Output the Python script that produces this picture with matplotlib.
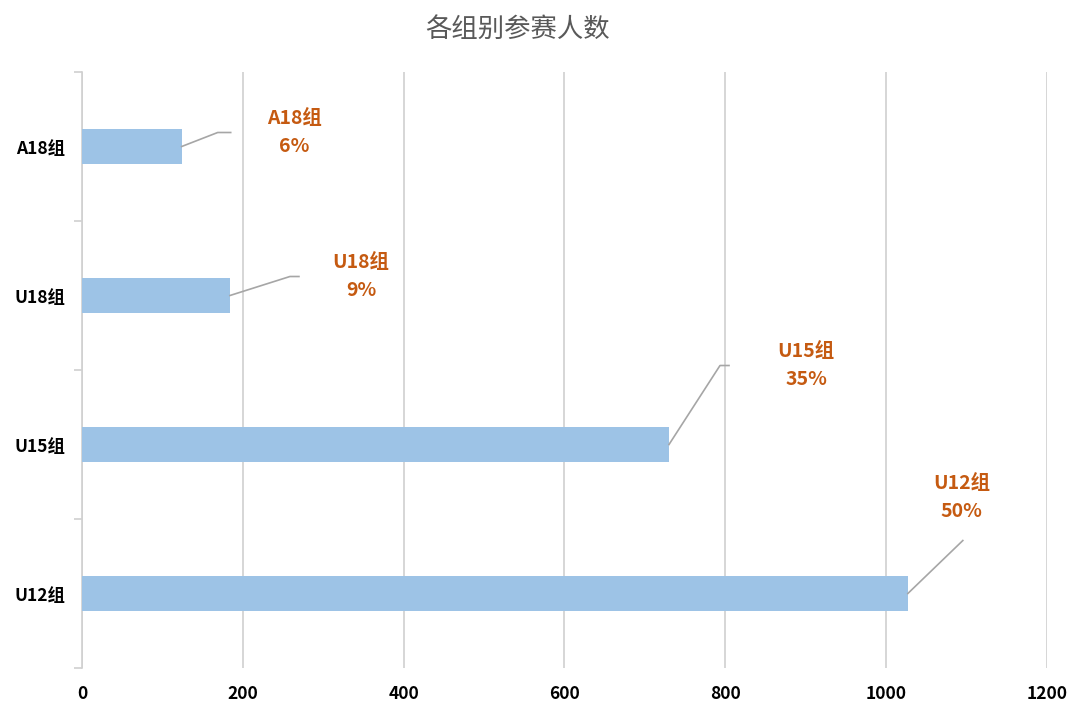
import matplotlib
matplotlib.use("Agg")
import matplotlib.pyplot as plt
from matplotlib.ticker import FixedLocator, MultipleLocator

plt.rcParams['font.family'] = ['Noto Sans CJK SC', 'DejaVu Sans']

# data (bottom to top)
groups = ["U12组", "U15组", "U18组", "A18组"]
counts = [1027, 730, 184, 124]
shares = ["50%", "35%", "9%", "6%"]

# leader line / label placement in pixels relative to bar end:
# (elbow dx, elbow dy, end dx, end dy, text dx, text dy)
label_offsets = [
  (55, 53, 55, 53, 54, 96),
  (51, 79, 60, 79, 137, 79),
  (60, 19, 69, 19, 131, 19),
  (36, 14, 49, 14, 113, 14),
]

BAR_COLOR = "#9DC3E6"
LABEL_COLOR = "#C55A11"
GRID_COLOR = "#D0D0D0"


fig = plt.figure(figsize=(10.8, 7.2), dpi=100)
fig.subplots_adjust(left=0.0759, right=0.9694, bottom=0.0722, top=0.9)
ax = fig.add_subplot(111)

ypos = list(range(len(groups)))
ax.barh(ypos, counts, height=0.23, color=BAR_COLOR, zorder=3)

ax.set_xlim(0, 1200)
ax.set_ylim(-0.5, len(groups) - 0.5)
ax.xaxis.set_major_locator(MultipleLocator(200))
ax.grid(axis="x", color=GRID_COLOR, linewidth=1.2, zorder=0)
ax.set_axisbelow(True)

for side in ["top", "right", "bottom"]:
  ax.spines[side].set_visible(False)
ax.spines["left"].set_color(GRID_COLOR)
ax.spines["left"].set_linewidth(1.2)

ax.set_yticks(ypos)
ax.set_yticklabels(groups, fontsize=12.5, fontweight="heavy", color="black")
ax.yaxis.set_minor_locator(FixedLocator([-0.5, 0.5, 1.5, 2.5, 3.5]))
ax.tick_params(axis="y", which="major", length=0, pad=12)
ax.tick_params(axis="y", which="minor", length=6, color=GRID_COLOR, width=1.2)
ax.tick_params(axis="x", length=0, pad=12, labelsize=12.5, labelcolor="black")
for lbl in ax.get_xticklabels():
  lbl.set_fontweight("heavy")

fig.suptitle("各组别参赛人数", x=0.479, y=0.978, fontsize=19, color="#595959",
             fontweight="medium")

# leader lines and labels
toData = ax.transData.inverted()
for i, (val, grp, pct) in enumerate(zip(counts, groups, shares)):
  ex, ey, fx, fy, tx, ty = label_offsets[i]
  bx, by = ax.transData.transform((val, i))
  pts = [(bx, by), (bx + ex, by + ey), (bx + fx, by + fy)]
  xs, ys = zip(*[toData.transform(p) for p in pts])
  ax.plot(xs, ys, color="#A6A6A6", linewidth=1.2, zorder=4, clip_on=False)
  cx, cy = toData.transform((bx + tx, by + ty))
  ax.text(cx, cy, "%s\n%s" % (grp, pct), ha="center", va="center",
          fontsize=14, fontweight="heavy", color=LABEL_COLOR,
          linespacing=1.55, zorder=5)

fig.savefig("out.png", dpi=100)
